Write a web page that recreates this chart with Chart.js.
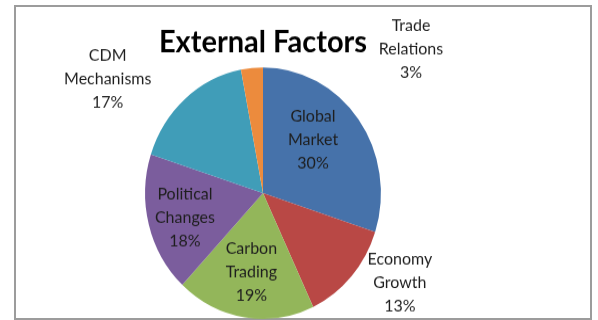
<!DOCTYPE html>
<html>
<head>
<meta charset="utf-8">
<script src="https://cdn.jsdelivr.net/npm/chart.js@4/dist/chart.umd.min.js"></script>
<style>
  html, body { margin: 0; padding: 0; background: #fff; }
  #page { position: relative; width: 598px; height: 320px; overflow: hidden; }
  #frame {
    position: absolute; left: 14px; top: 5px; width: 574px; height: 311px;
    border: 2px solid #9c9c9c; box-sizing: content-box;
  }
  /* the source picture is stretched a little vertically */
  #wrap {
    position: absolute; left: 0; top: 0; width: 598px; height: 300px;
    transform: scaleY(1.0667); transform-origin: 0 0;
  }
</style>
</head>
<body>
<div id="page">
  <div id="frame"></div>
  <div id="wrap"><canvas id="pieChart" width="598" height="300"></canvas></div>
</div>
<script>
// Data
const categories = [
  ['Global', 'Market'],
  ['Economy', 'Growth'],
  ['Carbon', 'Trading'],
  ['Political', 'Changes'],
  ['CDM', 'Mechanisms'],
  ['Trade', 'Relations']
];
const shares = [30, 13, 19, 18, 17, 3];
const sliceColors = ['#4672aa', '#b94845', '#93b65a', '#7b5d9d', '#409db8', '#ec8b3d'];

// label placement: angle shift (deg) from slice middle, distance in radii
const labelShift = [-9, -10, 0, -2, -14, 53];
const labelDist = [0.60, 1.36, 0.63, 0.69, 1.60, 1.70];

const labelFont = '16px Lato';

// Draw labels next to / inside slices
const sliceLabels = {
    id: 'sliceLabels',
    afterDatasetsDraw(chart) {
        const ctx = chart.ctx;
        const meta = chart.getDatasetMeta(0);
        const total = shares.reduce((a, b) => a + b, 0);
        ctx.save();
        ctx.font = labelFont;
        ctx.fillStyle = '#1e1e1e';
        ctx.textAlign = 'center';
        ctx.textBaseline = 'middle';
        meta.data.forEach(function(arc, i) {
            const p = arc.getProps(['x', 'y', 'startAngle', 'endAngle', 'outerRadius'], true);
            const mid = (p.startAngle + p.endAngle) / 2 + labelShift[i] * Math.PI / 180;
            const r = p.outerRadius * labelDist[i];
            const cx = p.x + Math.cos(mid) * r;
            const cy = p.y + Math.sin(mid) * r;
            const lines = categories[i].concat([Math.round(shares[i] / total * 100) + '%']);
            const lh = 22;
            lines.forEach(function(t, k) {
                ctx.fillText(t, cx, cy + (k - (lines.length - 1) / 2) * lh);
            });
        });
        ctx.restore();
    }
};

const pieCtx = document.getElementById('pieChart').getContext('2d');
const pieChart = new Chart(pieCtx, {
    type: 'pie',
    data: {
        labels: categories.map(c => c.join(' ')),
        datasets: [{
            data: shares,
            backgroundColor: sliceColors,
            borderWidth: 0
        }]
    },
    options: {
        responsive: false,
        animation: false,
        layout: {
            padding: { left: 145, right: 217, top: 0, bottom: 1 }
        },
        plugins: {
            legend: { display: false },
            tooltip: { enabled: false },
            title: {
                display: true,
                text: 'External Factors',
                color: '#000',
                font: { family: 'Lato', size: 29, weight: 'bold', lineHeight: 1.2 },
                padding: { top: 22, bottom: 6.4 }
            }
        }
    },
    plugins: [sliceLabels]
});
</script>
</body>
</html>
